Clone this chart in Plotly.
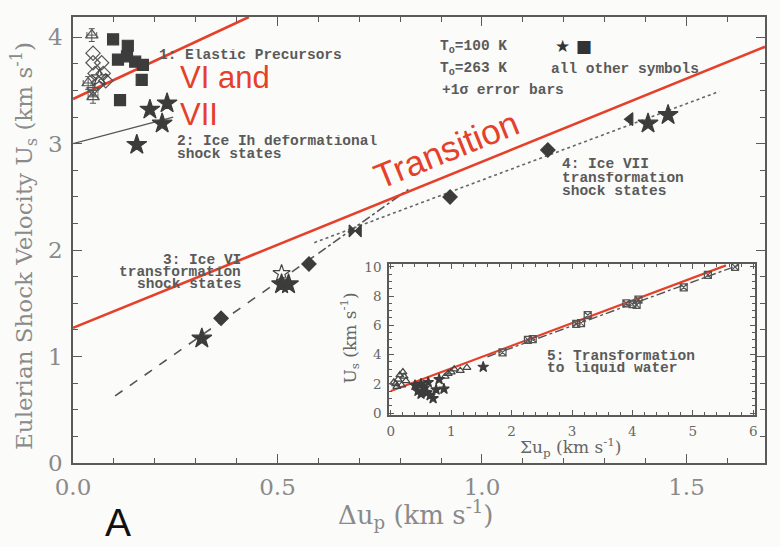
import plotly.graph_objects as go

# ---------------- data (main panel) ----------------
star_x = [0.156, 0.188, 0.218, 0.230, 0.315, 0.510, 0.527, 1.406, 1.455]
star_y = [2.99, 3.32, 3.19, 3.38, 1.17, 1.68, 1.68, 3.19, 3.27]

square_x = [0.098, 0.134, 0.110, 0.132, 0.152, 0.171, 0.168, 0.115]
square_y = [3.98, 3.92, 3.79, 3.82, 3.77, 3.74, 3.60, 3.41]

diamond_x = [0.362, 0.577, 0.922, 1.161]
diamond_y = [1.36, 1.87, 2.50, 2.94]

bowtie_x = [0.690]
bowtie_y = [2.18]

tri_left_x = [1.362]
tri_left_y = [3.23]

open_star_x = [0.510, 0.065]
open_star_y = [1.78, 3.62]

open_tri_up_x = [0.046, 0.037, 0.049]
open_tri_up_y = [4.02, 3.57, 3.44]
open_tri_dn_x = [0.049]
open_tri_dn_y = [3.50]
open_dia_x = [0.049, 0.049, 0.070, 0.074, 0.054, 0.062, 0.080]
open_dia_y = [3.85, 3.76, 3.76, 3.66, 3.66, 3.57, 3.59]

# fit / guide lines (end points)
ice6_dash_x = [0.103, 0.60]
ice6_dash_y = [0.63, 1.97]
ice6_dashdot_x = [0.60, 0.82]
ice6_dashdot_y = [1.97, 2.57]
ice7_dot_x = [0.59, 1.58]
ice7_dot_y = [2.07, 3.49]
ih_line_x = [0.0, 0.245]
ih_line_y = [3.00, 3.25]
red_vi_vii_x = [0.0, 0.43]
red_vi_vii_y = [3.42, 4.19]
red_trans_x = [0.0, 1.692]
red_trans_y = [1.27, 3.91]

# ---------------- data (inset) ----------------
in_open_x = [0.05, 0.08, 0.10, 0.12, 0.15, 0.18, 0.20, 0.22, 0.25, 0.90, 0.95, 1.00, 1.05, 1.15, 1.26]
in_open_y = [2.10, 2.00, 1.80, 2.30, 2.60, 1.90, 2.80, 2.50, 2.20, 2.50, 2.70, 2.80, 3.00, 2.90, 3.10]
in_star_x = [0.40, 0.45, 0.50, 0.55, 0.60, 0.65, 0.70, 0.75, 0.88, 0.50, 0.62, 0.80, 1.53]
in_star_y = [1.90, 1.50, 1.30, 1.70, 1.40, 1.20, 1.00, 1.60, 1.65, 2.00, 2.10, 2.30, 3.15]
in_sq_x = [1.85, 2.27, 2.35, 3.07, 3.15, 3.26, 3.90, 4.00, 4.07, 4.10, 4.85, 5.25, 5.70]
in_sq_y = [4.15, 5.00, 5.05, 6.10, 6.15, 6.70, 7.50, 7.45, 7.40, 7.75, 8.60, 9.45, 10.00]
in_fit_x = [1.60, 5.75]
in_fit_y = [3.85, 10.10]
in_red_x = [0.0, 5.55]
in_red_y = [1.50, 10.10]

RED = "#e5402a"
DARK = "#3c3c3c"
GRAY = "#8a8a8a"
FRAME = "#5a5a5a"
BG = "#fbfbf9"
MONO = "Liberation Mono"
SERIF = "DejaVu Serif"

fig = go.Figure()

def line(x, y, color, width, dash="solid", xa="x", ya="y"):
    fig.add_trace(go.Scatter(x=x, y=y, mode="lines", xaxis=xa, yaxis=ya,
                             line=dict(color=color, width=width, dash=dash),
                             hoverinfo="skip", showlegend=False))

def pts(x, y, symbol, size, color=DARK, lw=1.2, xa="x", ya="y", err=None):
    kw = {}
    if err is not None:
        kw["error_y"] = dict(type="constant", value=err[1], color="#555", thickness=1, width=3)
        kw["error_x"] = dict(type="constant", value=err[0], color="#555", thickness=1, width=3)
    fig.add_trace(go.Scatter(x=x, y=y, mode="markers", xaxis=xa, yaxis=ya,
                             marker=dict(symbol=symbol, size=size, color=color,
                                         line=dict(color=color, width=lw)),
                             showlegend=False, **kw))

# main panel lines
line(ice6_dash_x, ice6_dash_y, "#555", 1.6, "dash")
line(ice6_dashdot_x, ice6_dashdot_y, "#555", 1.6, "dashdot")
line(ice7_dot_x, ice7_dot_y, "#666", 1.6, "dot")
line(ih_line_x, ih_line_y, "#555", 1.3)
line(red_vi_vii_x, red_vi_vii_y, RED, 2.6)
line(red_trans_x, red_trans_y, RED, 2.6)

# main panel markers
pts(open_tri_up_x, open_tri_up_y, "triangle-up-open", 11, "#555", err=(0.012, 0.06))
pts(open_tri_dn_x, open_tri_dn_y, "triangle-down-open", 11, "#555", err=(0.012, 0.05))
pts(open_dia_x, open_dia_y, "diamond-open", 11, "#555")
pts(open_star_x, open_star_y, "star-open", 13, "#444")
pts(square_x, square_y, "square", 11)
pts(star_x, star_y, "star", 15)
pts(diamond_x, diamond_y, "diamond", 11)
pts(bowtie_x, bowtie_y, "bowtie", 12)
pts(tri_left_x, tri_left_y, "triangle-left", 11)

# inset
line(in_red_x, in_red_y, RED, 2.2, xa="x2", ya="y2")
line(in_fit_x, in_fit_y, "#555", 1.4, "dashdot", xa="x2", ya="y2")
pts(in_open_x, in_open_y, "triangle-up-open", 7, "#444", xa="x2", ya="y2")
pts(in_star_x, in_star_y, "star", 8, xa="x2", ya="y2")
pts(in_sq_x, in_sq_y, "square-x-open", 7, "#555", xa="x2", ya="y2")

# ---------- layout ----------
L, R, T, B = 73, 765, 15, 463
W, H = 780, 547
X0, X1 = 0.0, 1.692
Y0, Y1 = 0.0, 4.19

def pxp(p):  # pixel -> paper x
    return (p - L) / (R - L)

def pyp(p):  # pixel -> paper y
    return (B - p) / (B - T)

inset_dom_x = [pxp(389), pxp(755)]
inset_dom_y = [pyp(415), pyp(263)]

axis_common = dict(showgrid=False, zeroline=False, showline=True, linecolor=FRAME,
                   linewidth=1.5, mirror="ticks", ticks="inside", tickcolor=FRAME)

fig.update_layout(
    width=W, height=H, autosize=False,
    margin=dict(l=L, r=W - R, t=T, b=H - B),
    paper_bgcolor=BG, plot_bgcolor=BG,
    xaxis=dict(range=[X0, X1], tick0=0, dtick=0.5, tickformat=".1f",
               ticklen=9, tickwidth=1.3, ticklabelstandoff=3,
               tickfont=dict(family=SERIF, size=23, color=GRAY),
               minor=dict(dtick=0.1, ticklen=5, tickcolor=FRAME, ticks="inside"),
               **axis_common),
    yaxis=dict(range=[Y0, Y1], tick0=0, dtick=1,
               ticklen=9, tickwidth=1.3, ticklabelstandoff=4,
               tickfont=dict(family=SERIF, size=23, color=GRAY),
               minor=dict(dtick=0.25, ticklen=5, tickcolor=FRAME, ticks="inside"),
               **axis_common),
    xaxis2=dict(domain=inset_dom_x, anchor="y2", range=[-0.03, 6.03], tick0=0, dtick=1,
                ticklen=5, tickwidth=1, ticklabelstandoff=3,
                tickfont=dict(family=SERIF, size=13.5, color="#666"),
                minor=dict(dtick=0.2, ticklen=3, tickcolor=FRAME, ticks="inside"),
                **axis_common),
    yaxis2=dict(domain=inset_dom_y, anchor="x2", range=[-0.15, 10.2], tick0=0, dtick=2,
                ticklen=5, tickwidth=1, ticklabelstandoff=3,
                tickfont=dict(family=SERIF, size=13.5, color="#666"),
                minor=dict(dtick=0.5, ticklen=3, tickcolor=FRAME, ticks="inside"),
                **axis_common),
)

# background of the inset
fig.add_shape(type="rect", xref="paper", yref="paper",
              x0=inset_dom_x[0], x1=inset_dom_x[1], y0=inset_dom_y[0], y1=inset_dom_y[1],
              fillcolor=BG, line=dict(width=0), layer="below")

ann = []

def txt(text, px, py, size=14.5, color="#5a5a5a", family=MONO, xanchor="left",
        yanchor="middle", angle=0, bold=False, height=None):
    t = f"<b>{text}</b>" if bold else text
    a = dict(text=t, x=pxp(px), y=pyp(py), xref="paper", yref="paper",
             xanchor=xanchor, yanchor=yanchor, showarrow=False,
             textangle=angle, font=dict(family=family, size=size, color=color))
    if height is not None:
        a["height"] = height
    ann.append(a)

# axis titles
txt("Eulerian Shock Velocity U<sub>s</sub> (km s<sup>-1</sup>)", 24, 245, size=23,
    color=GRAY, family=SERIF, xanchor="center", angle=-90)
txt("Δu<sub>p</sub> (km s<sup>-1</sup>)", 416, 515, size=26, color=GRAY,
    family=SERIF, xanchor="center")
txt("A", 118, 546, size=39, color="#111", family="Liberation Sans Narrow, Liberation Sans",
    xanchor="center", yanchor="bottom")

# labels inside plot (tight line spacing as in the original)
H12 = 12
txt("1: Elastic Precursors", 157, 53, bold=True, height=H12)
txt("2: Ice Ih deformational", 175, 140, bold=True, height=H12)
txt("shock states", 175, 153, bold=True, height=H12)
txt("3: Ice VI", 243, 259, xanchor="right", bold=True, height=H12)
txt("transformation", 243, 271, xanchor="right", bold=True, height=H12)
txt("shock states", 243, 283, xanchor="right", bold=True, height=H12)
txt("4: Ice VII", 560, 163, bold=True, height=H12)
txt("transformation", 560, 177, bold=True, height=H12)
txt("shock states", 560, 190, bold=True, height=H12)
txt("T<sub>o</sub>=100 K", 438, 45, bold=True)
txt("★ ■", 553, 44, size=17, color="#333", family="DejaVu Sans")
txt("T<sub>o</sub>=263 K", 438, 67, bold=True)
txt("all other symbols", 549, 67, bold=True)
txt("+1σ error bars", 440, 88, bold=True)
txt("5: Transformation", 545, 356, bold=True, height=H12)
txt("to liquid water", 545, 368, bold=True, height=H12)

# inset axis titles
txt("U<sub>s</sub> (km s<sup>-1</sup>)", 350, 338, size=17, color="#666",
    family=SERIF, xanchor="center", angle=-90)
txt("Σu<sub>p</sub> (km s<sup>-1</sup>)", 570, 447, size=17, color="#666",
    family=SERIF, xanchor="center")

# red annotations
txt("VI and", 178, 76, size=31, color=RED, family="Liberation Sans")
txt("VII", 178, 113, size=31, color=RED, family="Liberation Sans")
txt("Transition", 446, 148, size=35, color=RED, family="Liberation Sans",
    xanchor="center", angle=-22)

fig.update_layout(annotations=ann)

fig.write_html("out.html")
